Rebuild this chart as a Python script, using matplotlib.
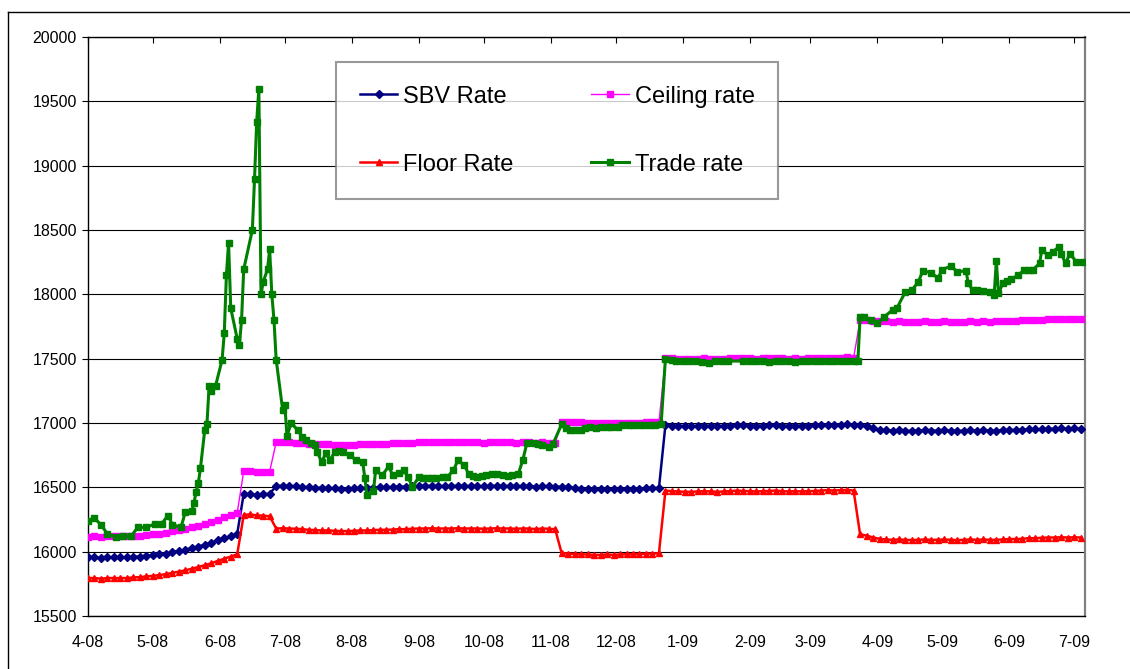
import datetime as dt

import matplotlib
matplotlib.use('Agg')
import matplotlib.pyplot as plt
import matplotlib.dates as mdates
from matplotlib.lines import Line2D
from matplotlib.ticker import FuncFormatter
import pandas as pd

plt.rcParams['font.family'] = ['Liberation Sans', 'DejaVu Sans']

# band series: one reading every 3 days from 1 April 2008
band_start = '2008-04-01'
band_count = 154

sbv_rate = [
    15955, 15955, 15950, 15955, 15955, 15955, 15955, 15960, 15962, 15968,
    15972, 15978, 15985, 15995, 16005, 16015, 16028, 16040, 16055, 16070,
    16088, 16105, 16122, 16140,
    16450, 16445, 16440, 16445, 16450,
    16510, 16512, 16510, 16508, 16505,
    16500, 16498, 16495, 16495, 16492, 16490, 16490, 16492, 16495, 16495, 16498, 16500,
    16500, 16502, 16505, 16505, 16508, 16510, 16510, 16512, 16510, 16510,
    16510, 16512, 16510, 16510, 16510, 16508, 16510, 16512, 16510, 16510,
    16508, 16510, 16510, 16505, 16510, 16508, 16505,
    16505, 16500, 16495, 16490, 16487, 16485, 16485, 16487, 16485, 16487,
    16488, 16490, 16490, 16492, 16492, 16495,
    16985, 16980, 16978, 16975, 16975, 16978, 16980, 16978, 16975, 16978,
    16980, 16985, 16982, 16980, 16978, 16980, 16982, 16985, 16980, 16978,
    16980, 16978, 16980, 16982, 16985, 16988, 16985, 16988, 16990, 16985,
    16985, 16975, 16960, 16948,
    16942, 16940, 16942, 16940, 16938, 16940, 16942, 16940, 16940, 16942,
    16940, 16938, 16940, 16942, 16940, 16942, 16940, 16940, 16942, 16945,
    16945, 16948,
    16950, 16950, 16952, 16955, 16955, 16958, 16955, 16958, 16955,
]

ceiling_rate = [
    16115, 16118, 16112, 16118, 16118, 16118, 16118, 16122, 16125, 16130,
    16135, 16140, 16148, 16158, 16168, 16178, 16190, 16202, 16218, 16232,
    16250, 16268, 16285, 16302,
    16625, 16628, 16620, 16618, 16622,
    16850, 16852, 16850, 16848, 16845,
    16840, 16838, 16835, 16835, 16832, 16830, 16830, 16832, 16835, 16835, 16838, 16840,
    16840, 16842, 16845, 16845, 16848, 16850, 16850, 16852, 16850, 16850,
    16850, 16852, 16850, 16850, 16850, 16848, 16850, 16852, 16850, 16850,
    16848, 16850, 16850, 16845, 16850, 16848, 16845,
    17010, 17010, 17005, 17005, 17000, 17000, 16998, 17000, 16998, 17000,
    17000, 17002, 17002, 17005, 17005, 17005,
    17505, 17502, 17500, 17498, 17498, 17500, 17502, 17500, 17498, 17500,
    17502, 17505, 17503, 17502, 17500, 17502, 17503, 17505, 17502, 17500,
    17502, 17500, 17502, 17503, 17505, 17508, 17505, 17508, 17510, 17505,
    17800, 17798, 17795, 17792,
    17790, 17788, 17790, 17788, 17786, 17788, 17790, 17788, 17788, 17790,
    17788, 17786, 17788, 17790, 17788, 17790, 17788, 17790, 17792, 17795,
    17795, 17798,
    17800, 17800, 17802, 17805, 17805, 17808, 17805, 17808, 17805,
]

floor_rate = [
    15795, 15795, 15790, 15795, 15795, 15795, 15795, 15800, 15802, 15808,
    15812, 15818, 15825, 15835, 15845, 15855, 15868, 15880, 15895, 15910,
    15928, 15945, 15962, 15980,
    16285, 16290, 16282, 16280, 16275,
    16180, 16182, 16180, 16178, 16175,
    16170, 16168, 16165, 16165, 16162, 16160, 16160, 16162, 16165, 16165, 16168, 16170,
    16170, 16172, 16175, 16175, 16178, 16180, 16180, 16182, 16180, 16180,
    16180, 16182, 16180, 16180, 16180, 16178, 16180, 16182, 16180, 16180,
    16178, 16180, 16180, 16175, 16180, 16178, 16175,
    15990, 15985, 15982, 15980, 15978, 15975, 15975, 15978, 15975, 15978,
    15980, 15982, 15982, 15985, 15985, 15988,
    16475, 16470, 16468, 16465, 16465, 16468, 16470, 16468, 16465, 16468,
    16470, 16475, 16472, 16470, 16468, 16470, 16472, 16475, 16470, 16468,
    16470, 16468, 16470, 16472, 16475, 16478, 16475, 16478, 16480, 16475,
    16135, 16125, 16110, 16100,
    16095, 16092, 16095, 16092, 16090, 16092, 16095, 16092, 16092, 16095,
    16092, 16090, 16092, 16095, 16092, 16095, 16092, 16092, 16095, 16098,
    16098, 16100,
    16105, 16105, 16108, 16110, 16110, 16112, 16110, 16112, 16110,
]

# trade rate: days after 1 April 2008
trade_days = [
    0, 3, 6, 9, 13, 16, 20, 23, 27, 31, 34, 37, 39, 43, 45, 48, 49, 50, 51, 52,
    54, 55, 56, 57, 59, 62, 63, 64, 65, 66, 69, 70, 71, 72, 76,
    77, 78, 79, 80, 81, 83, 84, 85, 86, 87, 90, 91, 92, 94, 97,
    99, 101, 103, 105, 106, 108, 110, 112, 114, 116, 118, 121, 124, 127, 128,
    129, 132, 133, 136, 139, 141, 144, 146, 148, 150, 153, 155, 157, 159, 161,
    164, 166, 169, 171, 174, 176, 178, 180, 182, 184, 187, 189, 192, 194, 196,
    199, 201, 203, 206, 208, 210, 213, 215,
    219, 221, 223, 225, 228, 230, 232, 235, 237, 240,
    242, 245, 247, 250, 252, 255, 257, 260, 262, 265,
    267, 270, 272, 275, 278, 281, 284, 287, 290, 293,
    296, 303, 306, 309, 312, 315, 318, 321, 324, 327,
    330, 333, 336, 339, 342, 345, 348, 351, 354, 356,
    357, 359, 362, 365, 368, 372, 374, 378, 381, 384,
    386, 390, 393, 395, 399, 402, 406, 407, 409, 411,
    414, 417, 419, 420, 421, 423, 425, 427, 430, 433,
    435, 437, 440, 441, 444, 446, 449, 450, 452, 454, 457, 460,
]
trade_rate = [
    16239, 16258, 16211, 16136, 16114, 16119, 16122, 16189, 16189, 16217,
    16217, 16281, 16211, 16189, 16308, 16314, 16378, 16467, 16531, 16650,
    16948, 16990, 17290, 17250, 17290, 17490, 17696, 18150, 18402, 17893,
    17654, 17605, 17800, 18194, 18501,
    18895, 19342, 19596, 17999, 18096, 18194, 18350, 17999, 17800, 17493,
    17104, 17143, 16901, 17000, 16943,
    16895, 16868, 16845, 16829, 16776, 16697, 16763, 16710, 16776, 16780,
    16776, 16750, 16710, 16697, 16574,
    16439, 16474, 16632, 16592, 16663, 16592, 16610, 16632, 16579, 16505,
    16579, 16575, 16574, 16570, 16574,
    16578, 16579, 16632, 16710, 16671, 16605, 16590, 16584, 16588, 16592,
    16600, 16605, 16592, 16590, 16592,
    16605, 16710, 16847, 16847, 16840, 16829, 16810, 16837,
    16990, 16960, 16947, 16945, 16947, 16965, 16968, 16965, 16968, 16970,
    16968, 16968, 16985, 16987, 16985, 16987, 16985, 16988, 16987, 16990,
    17500, 17490, 17482, 17480, 17478, 17482, 17475, 17470, 17478, 17480,
    17482, 17482, 17480, 17478, 17480, 17475, 17478, 17480, 17478, 17475,
    17478, 17480, 17482, 17480, 17478, 17480, 17482, 17480, 17482, 17485,
    17822, 17822, 17801, 17776, 17822, 17879, 17892, 18021, 18034, 18098,
    18183, 18168, 18124, 18193, 18219, 18175, 18183, 18085, 18034, 18030,
    18028, 18021, 17995, 18260, 18008, 18085, 18100, 18116, 18149, 18188,
    18190, 18193, 18240, 18343, 18304, 18330, 18369, 18317, 18240, 18317,
    18253, 18253,
]

band_dates = pd.date_range(band_start, periods=band_count, freq='3D')
trade_dates = pd.Timestamp(band_start) + pd.to_timedelta(trade_days, unit='D')

fig = plt.figure(figsize=(11.3, 6.69), dpi=100, facecolor='w')
ax = fig.add_axes([88 / 1130, 1 - 616 / 669, 997 / 1130, 579 / 669])

sbv_line, = ax.plot(band_dates, sbv_rate, color='#000080', lw=1.8, marker='D', ms=3.8,
                    label='SBV Rate', zorder=3)
ceil_line, = ax.plot(band_dates, ceiling_rate, color='#FF00FF', lw=1.0, marker='s', ms=3.8,
                     label='Ceiling rate', zorder=3)
floor_line, = ax.plot(band_dates, floor_rate, color='#FF0000', lw=1.8, marker='^', ms=4.8,
                      label='Floor Rate', zorder=3)
trade_line, = ax.plot(trade_dates, trade_rate, color='#008000', lw=2.2, marker='s', ms=5,
                      label='Trade rate', zorder=4)

ax.set_ylim(15500, 20000)
ax.set_yticks(range(15500, 20001, 500))
ax.set_xlim(dt.datetime(2008, 4, 1), dt.datetime(2009, 7, 6))
ax.xaxis.set_major_locator(mdates.MonthLocator())
ax.xaxis.set_major_formatter(FuncFormatter(
    lambda v, pos: '%d-%s' % (mdates.num2date(v).month, mdates.num2date(v).strftime('%y'))))

ax.grid(axis='y', color='black', lw=0.8)
ax.set_axisbelow(True)
ax.tick_params(axis='x', top=True, bottom=False, direction='in', length=4,
               labelsize=11.5, pad=14, color='black')
ax.tick_params(axis='y', direction='out', length=4, labelsize=11.5, pad=4)
for side in ['left', 'bottom', 'top']:
    ax.spines[side].set_color('black')
    ax.spines[side].set_linewidth(1.0)
ax.spines['right'].set_color('#808080')
ax.spines['right'].set_linewidth(1.6)

# two columns filled down, so this order reads row by row as in the original
leg = ax.legend(handles=[sbv_line, floor_line, ceil_line, trade_line],
                ncol=2, loc='upper left', bbox_to_anchor=(336 / 1130, 1 - 62 / 669),
                bbox_transform=fig.transFigure, fontsize=17, frameon=True, fancybox=False,
                handlelength=1.6, handletextpad=0.25, columnspacing=3.28,
                labelspacing=1.95, borderpad=1.0, borderaxespad=0)
leg.get_frame().set_edgecolor('#808080')
leg.get_frame().set_linewidth(1.5)

# outer chart border (runs off the right and bottom of the picture)
fig.add_artist(Line2D([8 / 1130, 8 / 1130], [0, 1 - 12 / 669], color='black', lw=1.0))
fig.add_artist(Line2D([8 / 1130, 1], [1 - 12 / 669, 1 - 12 / 669], color='black', lw=1.0))

fig.savefig('out.png', dpi=100)
